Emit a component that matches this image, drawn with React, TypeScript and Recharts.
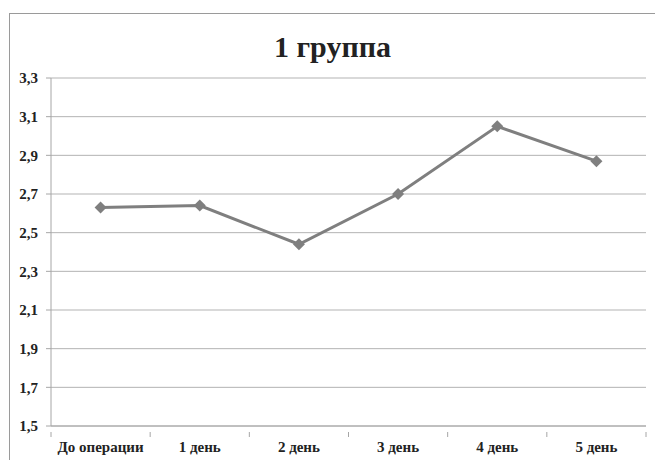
import { ComposedChart, Line, XAxis, YAxis, CartesianGrid } from "recharts";

const categories = ["До операции", "1 день", "2 день", "3 день", "4 день", "5 день"];
const values = [2.63, 2.64, 2.44, 2.7, 3.05, 2.87];
const yTicks = [1.5, 1.7, 1.9, 2.1, 2.3, 2.5, 2.7, 2.9, 3.1, 3.3];

const data = categories.map((name, i) => ({ name, value: values[i] }));

const W = 645;
const H = 446;
const M = { top: 64, right: 9, bottom: 0, left: 0 };
const Y_W = 41;
const X_H = 34;
const plotW = W - M.left - M.right - Y_W;
const step = plotW / categories.length;

const font = "'Times New Roman', Times, serif";

const Diamond = (props: any) => {
  const { cx, cy } = props;
  if (cx == null || cy == null) return null;
  const r = 6;
  return (
    <polygon
      points={`${cx},${cy - r} ${cx + r},${cy} ${cx},${cy + r} ${cx - r},${cy}`}
      fill="#7f7f7f"
    />
  );
};

const XTick = (props: any) => {
  const { x, y, payload, index } = props;
  const axisY = y - 2;
  return (
    <g>
      <line x1={x - step / 2} x2={x - step / 2} y1={axisY} y2={axisY + 5} stroke="#a6a6a6" />
      {index === categories.length - 1 && (
        <line x1={x + step / 2} x2={x + step / 2} y1={axisY} y2={axisY + 5} stroke="#a6a6a6" />
      )}
      <text
        x={x}
        y={axisY + 20}
        textAnchor="middle"
        style={{ fontFamily: font, fontWeight: 700, fontSize: 15 }}
        fill="#222"
      >
        {payload.value}
      </text>
    </g>
  );
};

export default function App() {
  return (
    <div
      style={{
        position: "absolute",
        left: 9,
        top: 13,
        width: W,
        height: H,
        borderLeft: "1px solid #9a9a9a",
        borderTop: "1px solid #9a9a9a",
        background: "#fff",
      }}
    >
      <div
        style={{
          position: "absolute",
          left: 0,
          width: W,
          top: 16,
          textAlign: "center",
          fontFamily: font,
          fontWeight: 700,
          fontSize: 30,
          color: "#222",
          lineHeight: "34px",
        }}
      >
        1 группа
      </div>
      <ComposedChart width={W} height={H} data={data} margin={M}>
        <CartesianGrid vertical={false} stroke="#b3b3b3" strokeWidth={1} />
        <XAxis
          dataKey="name"
          height={X_H}
          interval={0}
          padding={{ left: step / 2, right: step / 2 }}
          tickLine={false}
          axisLine={{ stroke: "#a6a6a6" }}
          tick={<XTick />}
          tickMargin={2}
        />
        <YAxis
          width={Y_W}
          domain={[1.5, 3.3]}
          ticks={yTicks}
          interval={0}
          tickSize={5}
          tickMargin={8}
          tickLine={{ stroke: "#a6a6a6" }}
          axisLine={{ stroke: "#a6a6a6" }}
          tickFormatter={(v: number) => v.toFixed(1).replace(".", ",")}
          tick={{ style: { fontFamily: font, fontWeight: 700, fontSize: 15 }, fill: "#222" }}
        />
        <Line
          dataKey="value"
          stroke="#7f7f7f"
          strokeWidth={3}
          dot={<Diamond />}
          activeDot={false}
          isAnimationActive={false}
        />
      </ComposedChart>
    </div>
  );
}
